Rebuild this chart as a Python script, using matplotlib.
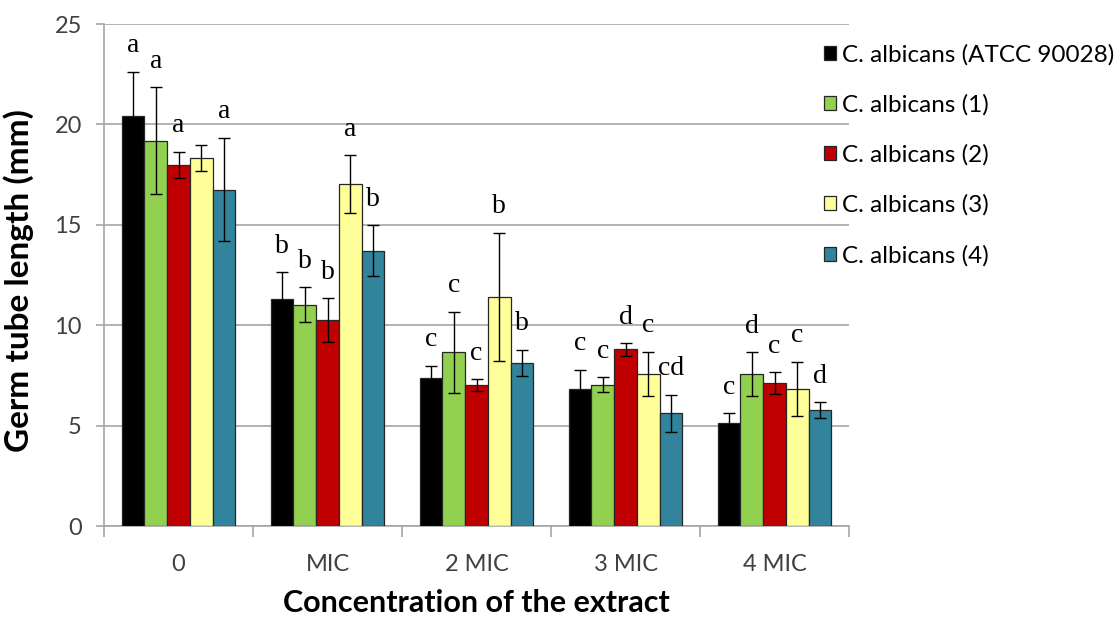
import numpy as np
import matplotlib
matplotlib.use("Agg")
import matplotlib.pyplot as plt
from matplotlib.patches import Patch

plt.rcParams["font.family"] = ["Lato", "DejaVu Sans"]

categories = ["0", "MIC", "2 MIC", "3 MIC", "4 MIC"]
series = ["C. albicans (ATCC 90028)", "C. albicans (1)", "C. albicans (2)",
          "C. albicans (3)", "C. albicans (4)"]
colors = ["#000000", "#92D050", "#C00000", "#FFFF99", "#31849B"]

# mean germ tube length per strain, one value per concentration
means = [
    [20.42, 11.30, 7.39, 6.84, 5.14],
    [19.19, 11.02, 8.65, 7.04, 7.57],
    [17.98, 10.26, 7.02, 8.80, 7.12],
    [18.34, 17.02, 11.42, 7.57, 6.82],
    [16.75, 13.71, 8.12, 5.61, 5.76],
]
errors = [
    [2.20, 1.33, 0.60, 0.95, 0.47],
    [2.65, 0.88, 2.02, 0.38, 1.08],
    [0.66, 1.08, 0.29, 0.31, 0.53],
    [0.65, 1.44, 3.19, 1.10, 1.36],
    [2.58, 1.28, 0.66, 0.93, 0.40],
]
letters = [
    ["a", "b", "c", "c", "c"],
    ["a", "b", "c", "c", "d"],
    ["a", "b", "c", "d", "c"],
    ["", "a", "b", "c", "c"],
    ["a", "b", "b", "cd", "d"],
]

fig = plt.figure(figsize=(11.2, 6.22), dpi=100)
ax = fig.add_axes([0.0929, 0.1543, 0.6652, 0.8071])

grey = "#A6A6A6"
x = np.arange(len(categories))
width = 0.1526
for i, (name, col) in enumerate(zip(series, colors)):
    pos = x + (i - 2) * width
    ax.bar(pos, means[i], width, color=col, edgecolor="#262626", linewidth=0.9,
           yerr=errors[i], error_kw=dict(ecolor="black", elinewidth=1.0,
                                         capsize=4.5, capthick=1.0), zorder=3)
    for px, m, e, lab in zip(pos, means[i], errors[i], letters[i]):
        if lab:
            ax.annotate(lab, (px, m + e), xytext=(0, 14), textcoords="offset points",
                        ha="center", va="baseline", fontsize=20,
                        family="Liberation Serif", zorder=4)

ax.set_xlim(-0.5, len(categories) - 0.5)
ax.set_ylim(0, 25)
ax.set_yticks(np.arange(0, 26, 5))
ax.set_xticks(x)
ax.set_xticklabels(categories)
ax.set_xticks(np.arange(-0.5, len(categories)), minor=True)
ax.grid(axis="y", color=grey, linewidth=1.2, zorder=0)
ax.set_axisbelow(True)

for s in ["top", "right"]:
    ax.spines[s].set_visible(False)
for s in ["left", "bottom"]:
    ax.spines[s].set_color(grey)
    ax.spines[s].set_linewidth(1.2)

ax.tick_params(axis="y", length=6, width=1.2, color=grey, pad=10,
               labelsize=17, labelcolor="#404040")
ax.tick_params(axis="x", which="major", length=0, pad=20,
               labelsize=17, labelcolor="#404040")
ax.tick_params(axis="x", which="minor", length=8, width=1.2, color=grey)

ax.set_ylabel("Germ tube length (mm)", fontsize=24, fontweight="bold")
ax.yaxis.set_label_coords(-0.094, 0.488)
ax.set_xlabel("Concentration of the extract", fontsize=22, fontweight="bold", labelpad=10)

handles = [Patch(facecolor=c, edgecolor="#262626", linewidth=0.9) for c in colors]
fig.legend(handles, series, loc="upper left", bbox_to_anchor=(0.727, 0.945),
           frameon=False, fontsize=17.5, handlelength=0.5, handleheight=0.5,
           handletextpad=0.25, labelspacing=1.18, borderaxespad=0)

fig.savefig("out.png", dpi=100)
